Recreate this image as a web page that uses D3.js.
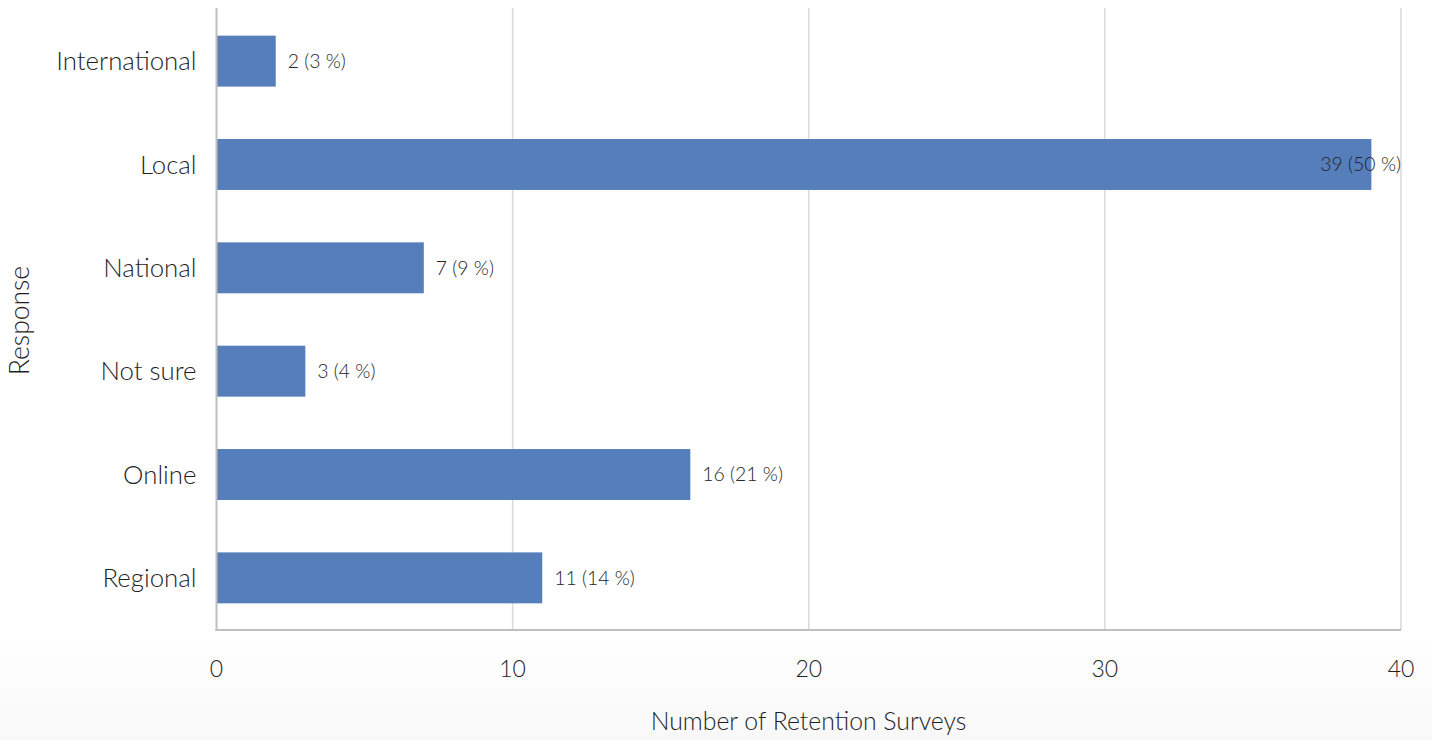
<!DOCTYPE html>
<html>
<head>
<meta charset="utf-8">
<script src="https://cdn.jsdelivr.net/npm/d3@7"></script>
<style>
  html, body { margin: 0; padding: 0; background: #fff; }
  svg { display: block; font-family: "Source Sans Pro", "Lato", "Noto Sans", sans-serif; font-weight: 300; }
</style>
</head>
<body>
<svg id="chart" width="1432" height="740"></svg>
<script>
// Survey responses: where retention surveys were carried out
const categories = ["International", "Local", "National", "Not sure", "Online", "Regional"];
const counts = [2, 39, 7, 3, 16, 11];
const xTicks = [0, 10, 20, 30, 40];

const width = 1432, height = 740;
const margin = { top: 9, right: 31, bottom: 110, left: 216.5 };

const svg = d3.select("#chart");

// soft grey wash below the plot area
const defs = svg.append("defs");
const grad = defs.append("linearGradient").attr("id", "wash").attr("x1", 0).attr("y1", 0).attr("x2", 0).attr("y2", 1);
grad.append("stop").attr("offset", "0%").attr("stop-color", "#ffffff");
grad.append("stop").attr("offset", "100%").attr("stop-color", "#f8f8f8");
svg.append("rect").attr("x", 0).attr("y", 632).attr("width", width).attr("height", height - 632).attr("fill", "url(#wash)");

const x = d3.scaleLinear().domain([0, 40]).range([margin.left, width - margin.right]);
const y = d3.scaleBand().domain(categories).range([margin.top, height - margin.bottom])
  .paddingInner(0.507).paddingOuter(0.258);

const total = d3.sum(counts);
const data = categories.map((c, i) => ({ cat: c, v: counts[i], pct: Math.round(counts[i] / total * 100) }));

// vertical gridlines
svg.append("g").selectAll("line").data(xTicks.filter(t => t > 0)).join("line")
  .attr("x1", d => x(d)).attr("x2", d => x(d))
  .attr("y1", margin.top - 1).attr("y2", height - margin.bottom)
  .attr("stroke", "#d9d9d9").attr("stroke-width", 1.5);

// bars
svg.append("g").selectAll("rect").data(data).join("rect")
  .attr("x", x(0)).attr("y", d => y(d.cat))
  .attr("width", d => x(d.v) - x(0)).attr("height", y.bandwidth())
  .attr("fill", "#557ebb");

// axis lines
svg.append("line").attr("x1", x(0)).attr("x2", x(0)).attr("y1", margin.top - 1).attr("y2", height - margin.bottom + 1)
  .attr("stroke", "#bfbfbf").attr("stroke-width", 2);
svg.append("line").attr("x1", x(0) - 1).attr("x2", x(40)).attr("y1", height - margin.bottom).attr("y2", height - margin.bottom)
  .attr("stroke", "#bfbfbf").attr("stroke-width", 2);

// value labels
const plotRight = x(40);
svg.append("g").selectAll("text").data(data).join("text")
  .attr("y", d => y(d.cat) + y.bandwidth() / 2)
  .attr("dy", "0.35em")
  .attr("font-size", 19.4).attr("fill", "#262626")
  .text(d => `${d.v} (${d.pct} %)`)
  .each(function (d) {
    const w = this.getComputedTextLength();
    let xp = x(d.v) + 12;
    if (xp + w > plotRight) xp = plotRight - w;
    d3.select(this).attr("x", xp);
  });

// category labels
svg.append("g").selectAll("text").data(categories).join("text")
  .attr("x", x(0) - 20).attr("y", d => y(d) + y.bandwidth() / 2)
  .attr("dy", "0.35em").attr("text-anchor", "end")
  .attr("font-size", 25.8).attr("fill", "#1f1f1f")
  .text(d => d);

// x tick labels
svg.append("g").selectAll("text").data(xTicks).join("text")
  .attr("x", d => x(d)).attr("y", 669)
  .attr("dy", "0.35em").attr("text-anchor", "middle")
  .attr("font-size", 23).attr("fill", "#1f1f1f")
  .text(d => d);

// axis titles
svg.append("text").attr("x", 808.5).attr("y", 721).attr("dy", "0.35em")
  .attr("text-anchor", "middle").attr("font-size", 24.8).attr("fill", "#1f1f1f")
  .text("Number of Retention Surveys");
svg.append("text").attr("transform", `translate(20,320.5) rotate(-90)`)
  .attr("dy", "0.35em").attr("text-anchor", "middle").attr("font-size", 26.5).attr("fill", "#1f1f1f")
  .text("Response");
</script>
</body>
</html>
